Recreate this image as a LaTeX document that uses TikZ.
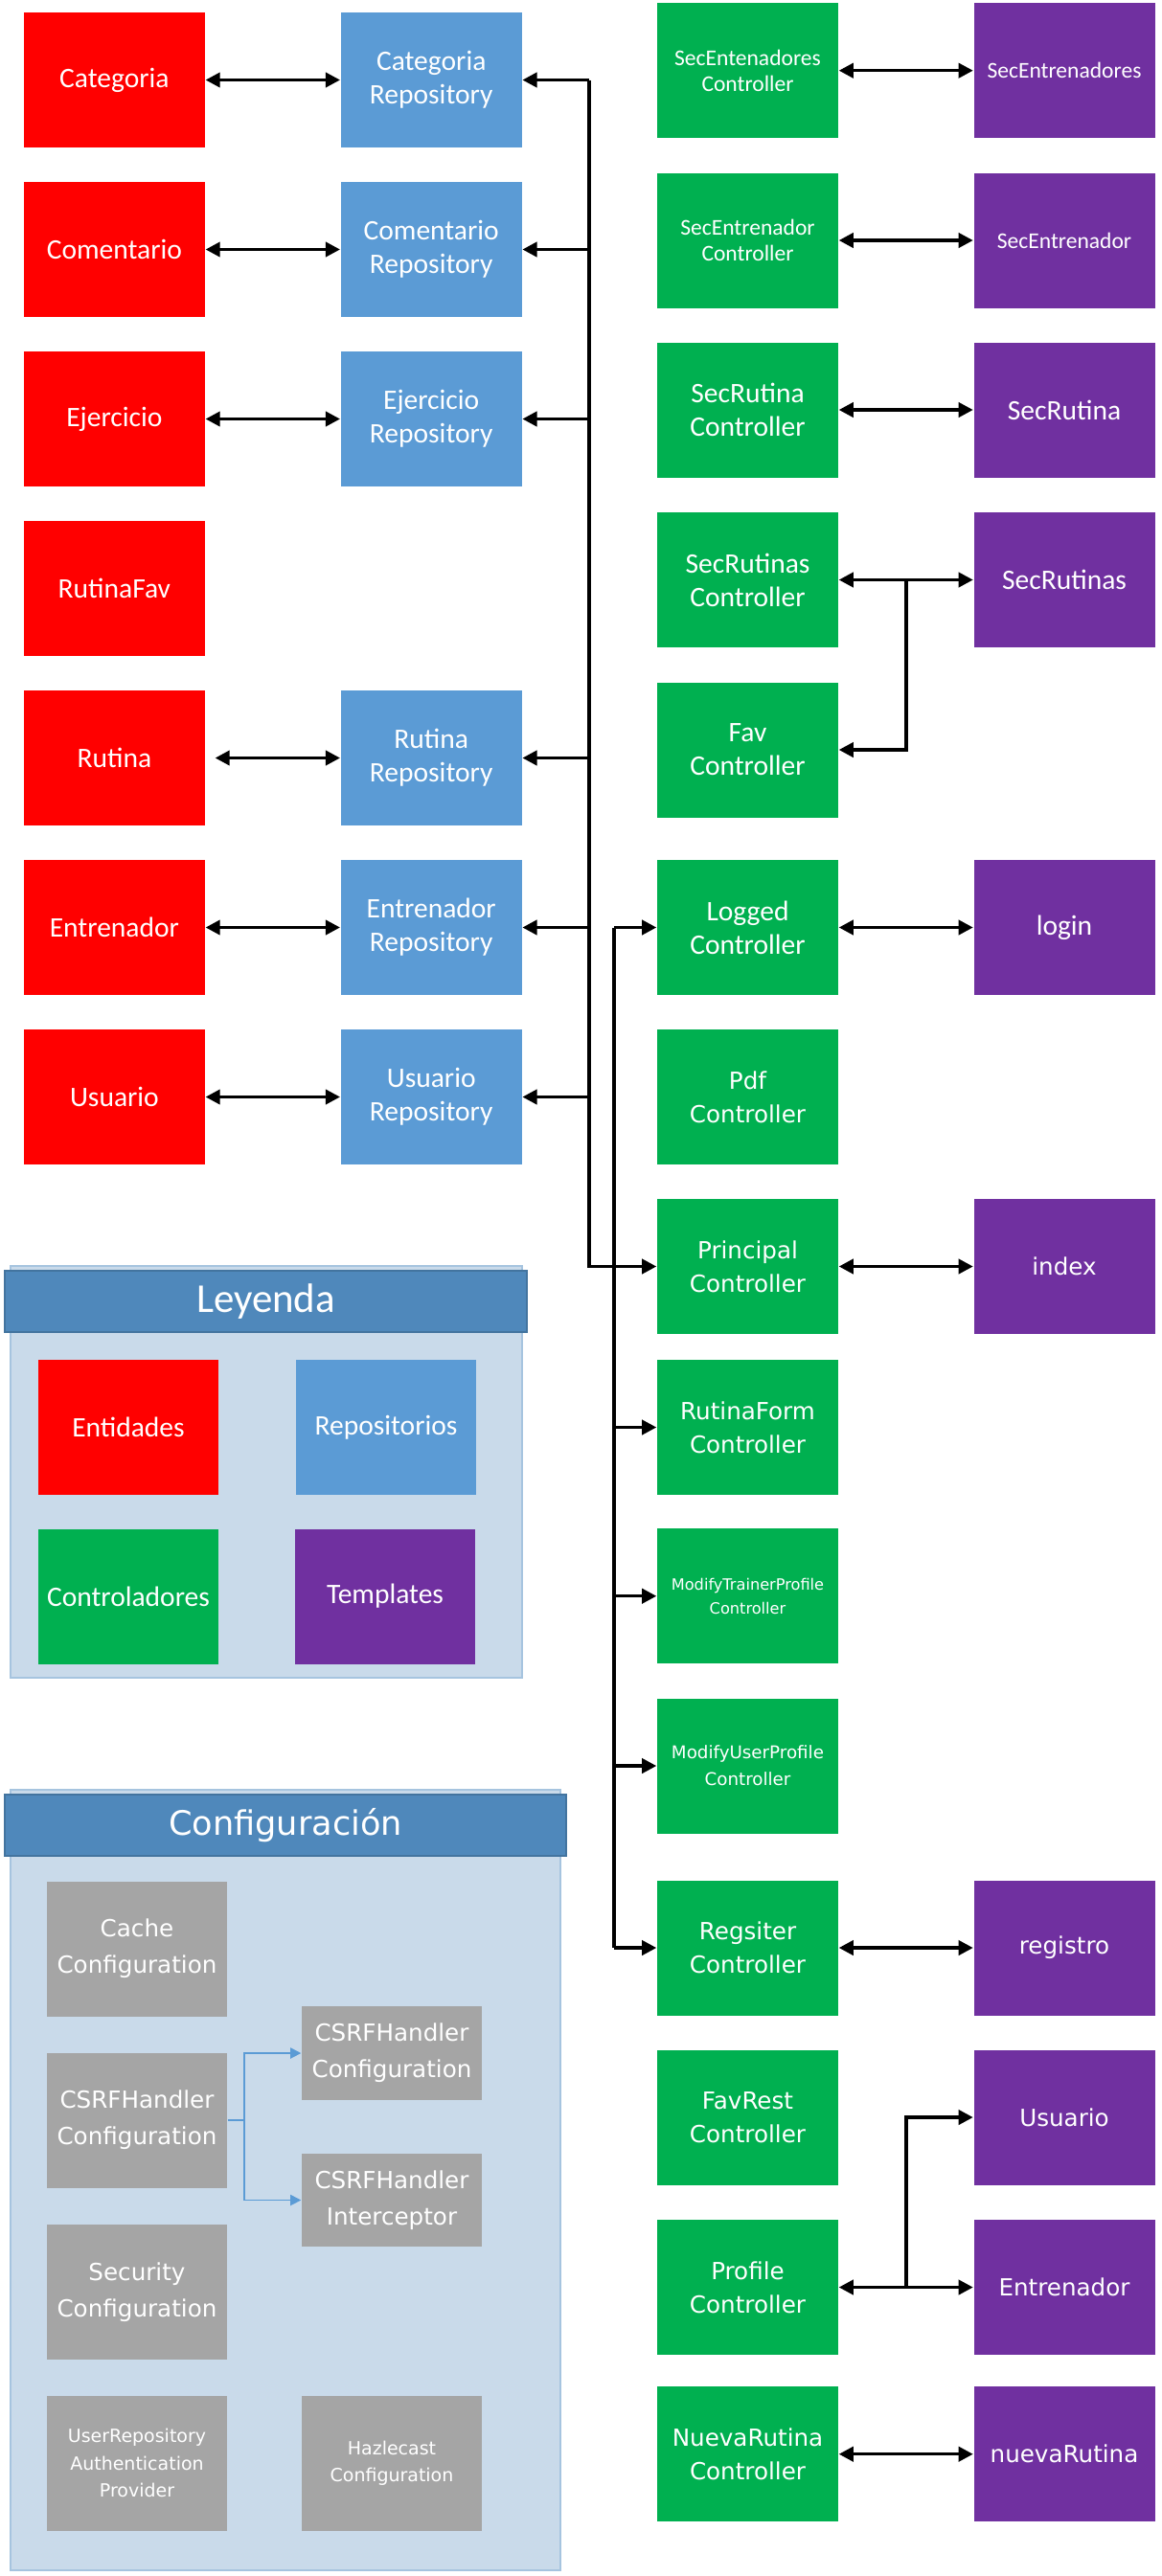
\documentclass[tikz,border=0pt]{standalone}
\usepackage{fontspec}
\setmainfont{Carlito}
\newfontfamily\verdfont{DejaVu Sans}
\usetikzlibrary{arrows.meta,calc}

\definecolor{entred}{HTML}{FF0000}
\definecolor{repoblue}{HTML}{5B9BD5}
\definecolor{ctrlgreen}{HTML}{00B050}
\definecolor{tmplpurple}{HTML}{7030A0}
\definecolor{confgray}{HTML}{A5A5A5}
\definecolor{panelfill}{HTML}{C9DAEA}
\definecolor{panelline}{HTML}{A6C4DF}
\definecolor{headblue}{HTML}{4F88BB}

\tikzset{
    box/.style={rectangle, minimum width=1.89cm, minimum height=1.41cm, inner sep=1pt,
        text=white, align=center, font=\fontsize{8.4}{10}\selectfont},
    entidad/.style={box, fill=entred},
    repo/.style={box, fill=repoblue},
    ctrl/.style={box, fill=ctrlgreen},
    tmpl/.style={box, fill=tmplpurple},
    conf/.style={box, fill=confgray, minimum width=1.88cm, font=\verdfont\fontsize{7}{10.8}\selectfont},
    verd/.style={font=\verdfont\fontsize{7}{10}\selectfont},
    smalltext/.style={font=\fontsize{6.7}{7.7}\selectfont},
    link/.style={line width=1pt, -{Triangle[length=4.3pt,width=4.3pt]}},
    twoway/.style={line width=1pt, {Triangle[length=4.3pt,width=4.3pt]}-{Triangle[length=4.3pt,width=4.3pt]}},
    clink/.style={draw=repoblue, line width=0.45pt, -{Triangle[length=3.2pt,width=3.2pt]}},
    panel/.style={rectangle, fill=panelfill, draw=panelline, line width=0.4pt},
    header/.style={rectangle, fill=headblue, draw=headblue!85!black, line width=0.3pt, text=white}
}

\begin{document}
\begin{tikzpicture}
    \useasboundingbox (0,0) rectangle (12.12,-26.90);

    % Paneles de leyenda y configuracion
    \node[panel, minimum width=5.34cm, minimum height=4.30cm] (leypanel) at (2.779,-15.37) {};
    \node[header, minimum width=5.45cm, minimum height=0.64cm, font=\fontsize{12.2}{14}\selectfont] (leyhead) at (2.775,-13.59) {Leyenda};
    \node[panel, minimum width=5.74cm, minimum height=8.15cm] (confpanel) at (2.979,-22.765) {};
    \node[header, minimum width=5.86cm, minimum height=0.64cm, font=\verdfont\fontsize{10}{12}\selectfont] (confhead) at (2.98,-19.06) {Configuración};

    % Entidades
    \node[entidad] (ecat) at (1.194,-0.835) {Categoria};
    \node[entidad] (ecom) at (1.194,-2.605) {Comentario};
    \node[entidad] (eeje) at (1.194,-4.375) {Ejercicio};
    \node[entidad] (efav) at (1.194,-6.145) {RutinaFav};
    \node[entidad] (erut) at (1.194,-7.915) {Rutina};
    \node[entidad] (eent) at (1.194,-9.685) {Entrenador};
    \node[entidad] (eusu) at (1.194,-11.455) {Usuario};

    % Repositorios
    \node[repo] (rcat) at (4.502,-0.835) {Categoria\\Repository};
    \node[repo] (rcom) at (4.502,-2.605) {Comentario\\Repository};
    \node[repo] (reje) at (4.502,-4.375) {Ejercicio\\Repository};
    \node[repo] (rrut) at (4.502,-7.915) {Rutina\\Repository};
    \node[repo] (rent) at (4.502,-9.685) {Entrenador\\Repository};
    \node[repo] (rusu) at (4.502,-11.455) {Usuario\\Repository};

    % Controladores
    \node[ctrl, smalltext] (csecents) at (7.805,-0.737) {SecEntenadores\\Controller};
    \node[ctrl, smalltext] (csecent) at (7.805,-2.51) {SecEntrenador\\Controller};
    \node[ctrl] (csecrut) at (7.805,-4.28) {SecRutina\\Controller};
    \node[ctrl] (csecruts) at (7.805,-6.055) {SecRutinas\\Controller};
    \node[ctrl] (cfav) at (7.805,-7.83) {Fav\\Controller};
    \node[ctrl] (clogged) at (7.805,-9.685) {Logged\\Controller};
    \node[ctrl, verd] (cpdf) at (7.805,-11.455) {Pdf\\Controller};
    \node[ctrl, verd] (cprin) at (7.805,-13.225) {Principal\\Controller};
    \node[ctrl, verd] (crform) at (7.805,-14.905) {RutinaForm\\Controller};
    \node[ctrl, font=\verdfont\fontsize{4.6}{7}\selectfont] (cmodtr) at (7.805,-16.667) {ModifyTrainerProfile\\Controller};
    \node[ctrl, font=\verdfont\fontsize{5.2}{8}\selectfont] (cmodus) at (7.805,-18.44) {ModifyUserProfile\\Controller};
    \node[ctrl, verd] (creg) at (7.805,-20.34) {Regsiter\\Controller};
    \node[ctrl, verd] (cfavr) at (7.805,-22.11) {FavRest\\Controller};
    \node[ctrl, verd] (cprof) at (7.805,-23.885) {Profile\\Controller};
    \node[ctrl, verd] (cnueva) at (7.805,-25.627) {NuevaRutina\\Controller};

    % Templates
    \node[tmpl, smalltext] (tsecents) at (11.11,-0.737) {SecEntrenadores};
    \node[tmpl, smalltext] (tsecent) at (11.11,-2.51) {SecEntrenador};
    \node[tmpl] (tsecrut) at (11.11,-4.28) {SecRutina};
    \node[tmpl] (tsecruts) at (11.11,-6.055) {SecRutinas};
    \node[tmpl] (tlogin) at (11.11,-9.685) {login};
    \node[tmpl, verd] (tindex) at (11.11,-13.225) {index};
    \node[tmpl, verd] (treg) at (11.11,-20.34) {registro};
    \node[tmpl, verd] (tusu) at (11.11,-22.11) {Usuario};
    \node[tmpl, verd] (tent) at (11.11,-23.885) {Entrenador};
    \node[tmpl, verd] (tnueva) at (11.11,-25.627) {nuevaRutina};

    % Leyenda
    \node[entidad, minimum width=1.88cm] (lent) at (1.34,-14.905) {Entidades};
    \node[repo, minimum width=1.88cm] (lrep) at (4.03,-14.905) {Repositorios};
    \node[ctrl, minimum width=1.88cm] (lctrl) at (1.34,-16.67) {Controladores};
    \node[tmpl, minimum width=1.88cm] (ltmpl) at (4.02,-16.67) {Templates};

    % Configuracion
    \node[conf] (kcache) at (1.43,-20.35) {Cache\\Configuration};
    \node[conf] (kcsrf) at (1.43,-22.14) {CSRFHandler\\Configuration};
    \node[conf] (ksecur) at (1.43,-23.935) {Security\\Configuration};
    \node[conf, font=\verdfont\fontsize{5.4}{8}\selectfont] (kuser) at (1.43,-25.72) {UserRepository\\Authentication\\Provider};
    \node[conf, minimum height=0.98cm] (kcsrfc) at (4.09,-21.44) {CSRFHandler\\Configuration};
    \node[conf, minimum height=0.97cm] (kcsrfi) at (4.09,-22.975) {CSRFHandler\\Interceptor};
    \node[conf, font=\verdfont\fontsize{5.4}{8}\selectfont] (khazle) at (4.09,-25.72) {Hazlecast\\Configuration};

    % Buses
    \coordinate (b1) at (6.15,0);
    \coordinate (b2) at (6.41,0);
    \draw[link] (rcat.east -| b1) |- (cprin.west);
    \foreach \r in {rcat,rcom,reje,rrut,rent,rusu} {
        \draw[link] (\r.east -| b1) -- (\r.east);
    }
    \draw[line width=1pt] (clogged.west -| b2) -- (creg.west -| b2);
    \foreach \c in {clogged,crform,cmodtr,cmodus,creg} {
        \draw[link] (\c.west -| b2) -- (\c.west);
    }

    % Entidad <-> repositorio
    \foreach \e/\r in {ecat/rcat,ecom/rcom,eeje/reje,eent/rent,eusu/rusu} {
        \draw[twoway] (\e) -- (\r);
    }
    \draw[twoway, shorten <=0.1cm] (erut) -- (rrut);

    % Controlador <-> template
    \foreach \c/\t in {csecents/tsecents,csecent/tsecent,csecrut/tsecrut,csecruts/tsecruts,clogged/tlogin,cprin/tindex,creg/treg,cprof/tent,cnueva/tnueva} {
        \draw[twoway] (\c) -- (\t);
    }
    \coordinate (jsr) at ($(csecruts.east)!0.5!(tsecruts.west)$);
    \draw[link] (jsr) |- (cfav.east);
    \coordinate (jpr) at ($(cprof.east)!0.5!(tent.west)$);
    \draw[link] (jpr) |- (tusu.west);

    % CSRF
    \coordinate (jcs) at (2.55,-22.14);
    \draw[clink] (kcsrf.east) -- (jcs) |- (kcsrfc.west);
    \draw[clink] (jcs) |- (kcsrfi.west);
\end{tikzpicture}
\end{document}
